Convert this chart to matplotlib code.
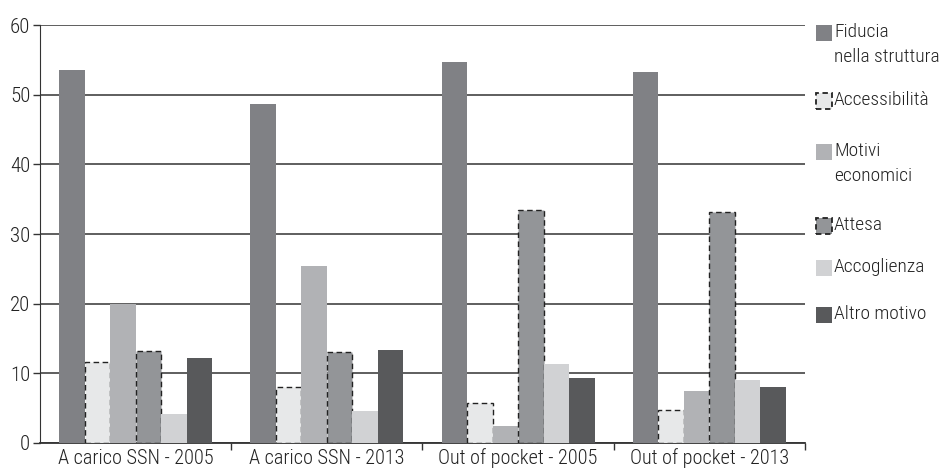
import matplotlib
matplotlib.use("Agg")
import matplotlib.pyplot as plt
import numpy as np
from matplotlib.font_manager import fontManager
from matplotlib.patches import Rectangle

names = {f.name for f in fontManager.ttflist}
condensed = [n for n in ["Roboto Condensed", "Liberation Sans Narrow",
                         "Open Sans Condensed", "Noto Sans Condensed"] if n in names]
if condensed:
    fam = condensed[0]
    xfs, yfs, lfs = 14.6, 15, 14
else:
    fam = "Roboto"
    xfs, yfs, lfs = 12.4, 14.5, 13
plt.rcParams['font.family'] = [fam, 'DejaVu Sans']
plt.rcParams['font.weight'] = 'light'

categories = ["A carico SSN - 2005", "A carico SSN - 2013",
              "Out of pocket - 2005", "Out of pocket - 2013"]
series = ["Fiducia\nnella struttura", "Accessibilità", "Motivi\neconomici",
          "Attesa", "Accoglienza", "Altro motivo"]
fiducia = [53.5, 48.7, 54.7, 53.2]
accessibilita = [11.6, 8.1, 5.8, 4.8]
motivi = [20.0, 25.4, 2.5, 7.5]
attesa = [13.2, 13.0, 33.5, 33.1]
accoglienza = [4.2, 4.6, 11.3, 9.1]
altro = [12.2, 13.4, 9.3, 8.1]
values = [fiducia, accessibilita, motivi, attesa, accoglienza, altro]
colors = ["#808185", "#e7e8e9", "#b1b2b5", "#939598", "#d1d2d4", "#58595b"]
dashed = [False, True, False, True, False, False]

W, H = 953, 472
fig = plt.figure(figsize=(W/100, H/100), dpi=100)
ax = fig.add_axes([40/W, 1-443/H, 765/W, 418/H])

n = len(series)
w = 0.8 / n
x = np.arange(len(categories))
dash = (0, (4, 2.5))
for i, (vals, c, d) in enumerate(zip(values, colors, dashed)):
    pos = x - 0.4 + w * (i + 0.5)
    if d:
        ax.bar(pos, vals, w, color=c, edgecolor="#222222", linewidth=1.0,
               linestyle=dash, zorder=3)
    else:
        ax.bar(pos, vals, w, color=c, edgecolor="none", zorder=3)

ax.set_xlim(-0.5, len(categories) - 0.5)
ax.set_ylim(0, 60)
ax.set_yticks(range(0, 61, 10))
ax.yaxis.grid(True, color="#333333", linewidth=1.1, zorder=0)
ax.set_axisbelow(True)
ax.set_xticks(x)
ax.set_xticklabels(categories, fontsize=xfs, color="#222222")
ax.tick_params(axis='x', length=0, pad=4)
ax.set_xticks(np.arange(len(categories)) + 0.5, minor=True)
ax.tick_params(axis='x', which='minor', length=5, width=1, color="#333333", direction='out')
ax.tick_params(axis='y', labelsize=yfs, labelcolor="#222222", length=5, width=1,
               color="#333333", pad=2)
for s in ["top", "right"]:
    ax.spines[s].set_visible(False)
ax.spines["left"].set_color("#333333")
ax.spines["bottom"].set_color("#333333")
ax.spines["bottom"].set_linewidth(1.3)

# manual legend (handle aligned with first text line)
handle_tops = [25, 93, 144, 218, 260, 307]
hx, hs = 816, 16
for lab, c, d, top in zip(series, colors, dashed, handle_tops):
    if d:
        r = Rectangle((hx/W, 1-(top+hs)/H), hs/W, hs/H, transform=fig.transFigure,
                      facecolor=c, edgecolor="#222222", linewidth=1.3,
                      linestyle=(0, (3, 2)))
    else:
        r = Rectangle((hx/W, 1-(top+hs)/H), hs/W, hs/H, transform=fig.transFigure,
                      facecolor=c, edgecolor="none")
    fig.add_artist(r)
    fig.text(834/W, 1-(top-2)/H, lab, fontsize=lfs, color="#222222",
             va="top", ha="left", linespacing=1.5)

fig.savefig("out.png", dpi=100)
